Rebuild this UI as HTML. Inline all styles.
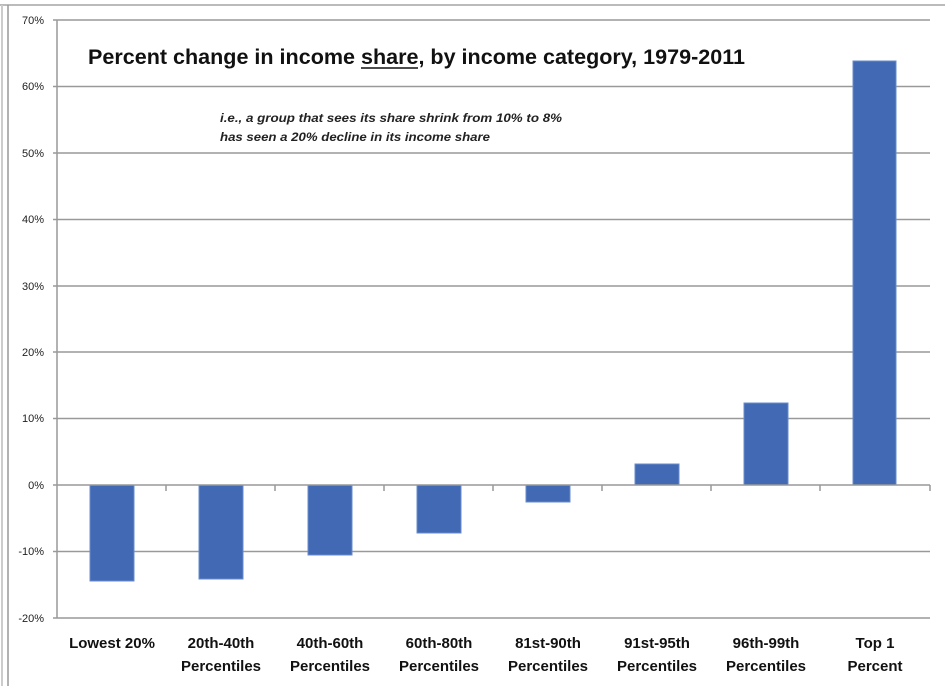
<!DOCTYPE html><html><head><style>body{margin:0;background:#fff}svg{display:block}</style></head><body>
<svg width="945" height="686" xmlns="http://www.w3.org/2000/svg" font-family="Liberation Sans, sans-serif">
<rect width="945" height="686" fill="#fff"/>
<line x1="0" y1="5" x2="945" y2="5" stroke="#bbb" stroke-width="2"/>
<line x1="2" y1="5" x2="2" y2="686" stroke="#ccc" stroke-width="2"/>
<line x1="8" y1="5" x2="8" y2="686" stroke="#999" stroke-width="1.5"/>
<g stroke="#999" stroke-width="1.5">
<line x1="53" y1="20" x2="930" y2="20"/><line x1="53" y1="86.5" x2="930" y2="86.5"/>
<line x1="53" y1="153" x2="930" y2="153"/><line x1="53" y1="219.5" x2="930" y2="219.5"/>
<line x1="53" y1="286" x2="930" y2="286"/><line x1="53" y1="352" x2="930" y2="352"/>
<line x1="53" y1="418.5" x2="930" y2="418.5"/><line x1="53" y1="551.5" x2="930" y2="551.5"/>
<line x1="53" y1="618" x2="930" y2="618"/>
<line x1="57" y1="20" x2="57" y2="618"/>
</g>
<g fill="#4169b4" stroke="#6a8ccc" stroke-width="1">
<rect x="90" y="485" width="44" height="96"/>
<rect x="199" y="485" width="44" height="94"/>
<rect x="308" y="485" width="44" height="70"/>
<rect x="417" y="485" width="44" height="48"/>
<rect x="526" y="485" width="44" height="17"/>
<rect x="635" y="464" width="44" height="21"/>
<rect x="744" y="403" width="44" height="82"/>
<rect x="853" y="61" width="43" height="424"/>
</g>
<g stroke="#999" stroke-width="1.5">
<line x1="53" y1="485" x2="930" y2="485"/>
<line x1="166" y1="485" x2="166" y2="491"/><line x1="275" y1="485" x2="275" y2="491"/>
<line x1="384" y1="485" x2="384" y2="491"/><line x1="493" y1="485" x2="493" y2="491"/>
<line x1="602" y1="485" x2="602" y2="491"/><line x1="711" y1="485" x2="711" y2="491"/>
<line x1="820" y1="485" x2="820" y2="491"/><line x1="930" y1="485" x2="930" y2="491"/>
</g>
<g font-size="11" fill="#222" text-anchor="end">
<text x="44" y="24">70%</text><text x="44" y="90">60%</text><text x="44" y="157">50%</text>
<text x="44" y="223">40%</text><text x="44" y="290">30%</text><text x="44" y="356">20%</text>
<text x="44" y="422">10%</text><text x="44" y="489">0%</text><text x="44" y="555">-10%</text><text x="44" y="622">-20%</text>
</g>
<text x="88" y="64" font-size="21" font-weight="bold" fill="#111" textLength="657" lengthAdjust="spacingAndGlyphs">Percent change in income share, by income category, 1979-2011</text>
<line x1="361" y1="68" x2="418" y2="68" stroke="#111" stroke-width="1.5"/>
<g font-size="12" font-style="italic" font-weight="bold" fill="#222">
<text x="220" y="122" textLength="342" lengthAdjust="spacingAndGlyphs">i.e., a  group  that sees its share  shrink from 10% to 8%</text>
<text x="220" y="141" textLength="270" lengthAdjust="spacingAndGlyphs">has  seen a 20% decline  in  its income share</text>
</g>
<g font-size="15" font-weight="bold" fill="#111" text-anchor="middle">
<text x="112" y="648">Lowest 20%</text>
<text x="221" y="648">20th-40th</text><text x="221" y="671">Percentiles</text>
<text x="330" y="648">40th-60th</text><text x="330" y="671">Percentiles</text>
<text x="439" y="648">60th-80th</text><text x="439" y="671">Percentiles</text>
<text x="548" y="648">81st-90th</text><text x="548" y="671">Percentiles</text>
<text x="657" y="648">91st-95th</text><text x="657" y="671">Percentiles</text>
<text x="766" y="648">96th-99th</text><text x="766" y="671">Percentiles</text>
<text x="875" y="648">Top 1</text><text x="875" y="671">Percent</text>
</g>
</svg></body></html>
